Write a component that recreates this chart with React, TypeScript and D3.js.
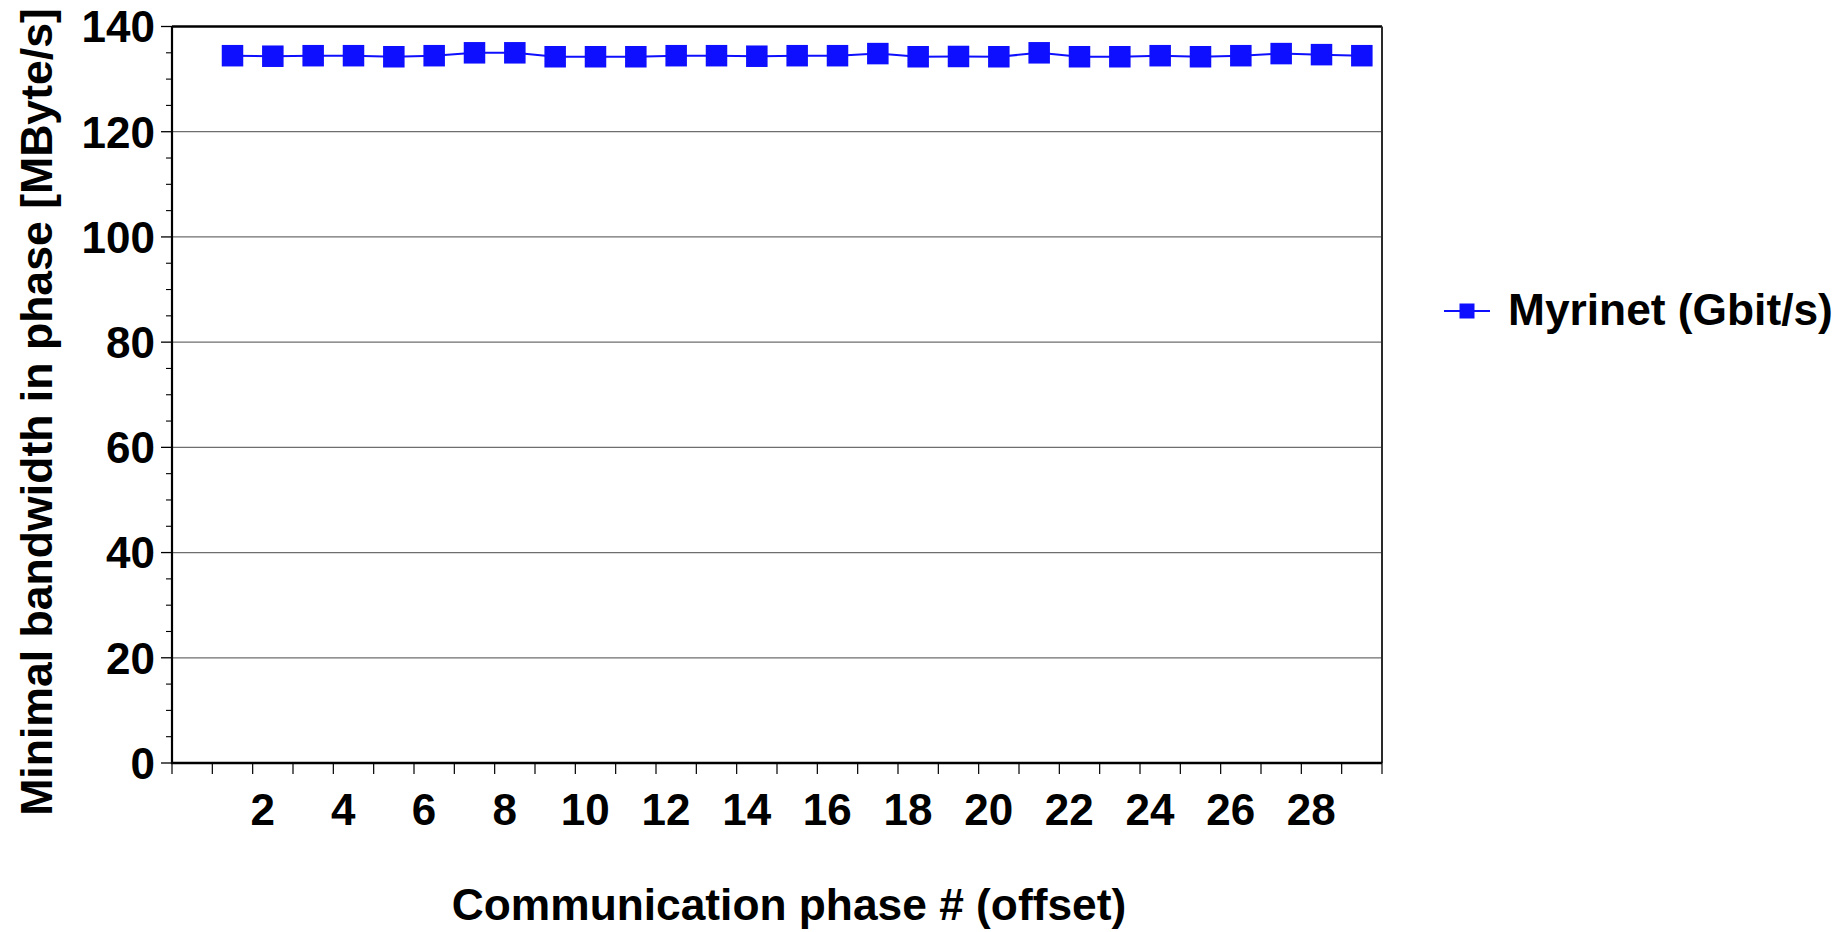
import React from "react";
import * as d3 from "d3";

// Communication phase (offset) index of every measurement
const phases = [
  1, 2, 3, 4, 5, 6, 7, 8, 9, 10, 11, 12, 13, 14, 15, 16, 17, 18, 19, 20, 21,
  22, 23, 24, 25, 26, 27, 28, 29,
];

// Minimal bandwidth observed in each phase [MByte/s]
const bandwidth = [
  134.45, 134.35, 134.45, 134.45, 134.25, 134.45, 135.0, 135.0, 134.25, 134.25,
  134.25, 134.45, 134.45, 134.35, 134.45, 134.45, 134.85, 134.25, 134.3, 134.25,
  135.0, 134.25, 134.25, 134.45, 134.25, 134.45, 134.85, 134.65, 134.45,
];

const yMajorTicks = [0, 20, 40, 60, 80, 100, 120, 140];
const yMinorTicks = [
  5, 10, 15, 25, 30, 35, 45, 50, 55, 65, 70, 75, 85, 90, 95, 105, 110, 115, 125,
  130, 135,
];
const xTickValues = [
  0, 1, 2, 3, 4, 5, 6, 7, 8, 9, 10, 11, 12, 13, 14, 15, 16, 17, 18, 19, 20, 21,
  22, 23, 24, 25, 26, 27, 28, 29, 30,
];
const xTickLabels = [2, 4, 6, 8, 10, 12, 14, 16, 18, 20, 22, 24, 26, 28];

const seriesName = "Myrinet (Gbit/s)";
const xTitle = "Communication phase # (offset)";
const yTitle = "Minimal bandwidth in phase [MByte/s]";

const W = 1847;
const H = 932;
const plot = { left: 172, right: 1382, top: 26.5, bottom: 763 };
const FONT = "'Liberation Sans', Arial, Helvetica, sans-serif";
const BLUE = "#0f0fff";

export default function App() {
  const x = d3.scaleLinear().domain([0, 30]).range([plot.left, plot.right]);
  const y = d3.scaleLinear().domain([0, 140]).range([plot.bottom, plot.top]);

  // each phase sits in the middle of its unit-wide slot
  const px = (i: number) => x(phases[i] + 0.5);
  const linePath =
    d3
      .line<number>()
      .x((_, i) => px(i))
      .y((d) => y(d))(bandwidth) || "";

  const markerSize = 21.5;
  const legendY = 311;

  return (
    <svg
      width={W}
      height={H}
      style={{ position: "absolute", left: 0, top: 0, background: "#fff" }}
      fontFamily={FONT}
      fontWeight="bold"
    >
      <rect x={0} y={0} width={W} height={H} fill="#fff" />

      {/* horizontal gridlines */}
      {yMajorTicks
        .filter((t) => t > 0 && t < 140)
        .map((t) => (
          <line
            key={"g" + t}
            x1={plot.left}
            x2={plot.right}
            y1={y(t)}
            y2={y(t)}
            stroke="#6e6e6e"
            strokeWidth={1.3}
          />
        ))}

      {/* frame */}
      <line x1={plot.left} x2={plot.right} y1={y(140)} y2={y(140)} stroke="#000" strokeWidth={2.5} />
      <line x1={plot.right} x2={plot.right} y1={plot.top} y2={plot.bottom} stroke="#2a2a2a" strokeWidth={2} />

      {/* y axis ticks */}
      {yMajorTicks.map((t) => (
        <line key={"ym" + t} x1={plot.left - 11} x2={plot.left} y1={y(t)} y2={y(t)} stroke="#000" strokeWidth={1.3} />
      ))}
      {yMinorTicks.map((t) => (
        <line key={"yn" + t} x1={plot.left - 6} x2={plot.left} y1={y(t)} y2={y(t)} stroke="#000" strokeWidth={1.1} />
      ))}
      {yMajorTicks.map((t) => (
        <text key={"yl" + t} x={155} y={y(t)} dy="0.36em" textAnchor="end" fontSize={44} fill="#000">
          {t}
        </text>
      ))}

      {/* x axis ticks */}
      {xTickValues.map((t) => (
        <line key={"xt" + t} x1={x(t)} x2={x(t)} y1={plot.bottom} y2={plot.bottom + 11} stroke="#000" strokeWidth={1.2} />
      ))}
      {xTickLabels.map((t) => (
        <text key={"xl" + t} x={x(t) + 10} y={825} textAnchor="middle" fontSize={44} fill="#000">
          {t}
        </text>
      ))}

      {/* axes */}
      <line x1={plot.left} x2={plot.left} y1={plot.top} y2={plot.bottom + 1} stroke="#000" strokeWidth={2.2} />
      <line x1={plot.left - 1} x2={plot.right} y1={plot.bottom} y2={plot.bottom} stroke="#000" strokeWidth={2.5} />

      {/* series */}
      <path d={linePath} fill="none" stroke={BLUE} strokeWidth={2} />
      {bandwidth.map((v, i) => (
        <rect
          key={"m" + i}
          x={px(i) - markerSize / 2}
          y={y(v) - markerSize / 2}
          width={markerSize}
          height={markerSize}
          fill={BLUE}
        />
      ))}

      {/* axis titles */}
      <text x={789} y={920} textAnchor="middle" fontSize={44.3} fill="#000">
        {xTitle}
      </text>
      <text transform={`translate(52, 412) rotate(-90)`} textAnchor="middle" fontSize={44.6} fill="#000">
        {yTitle}
      </text>

      {/* legend */}
      <line x1={1444} x2={1490} y1={legendY} y2={legendY} stroke={BLUE} strokeWidth={2} />
      <rect x={1467 - 7.5} y={legendY - 7.5} width={15} height={15} fill={BLUE} />
      <text x={1508} y={325} fontSize={44.3} fill="#000">
        {seriesName}
      </text>
    </svg>
  );
}
